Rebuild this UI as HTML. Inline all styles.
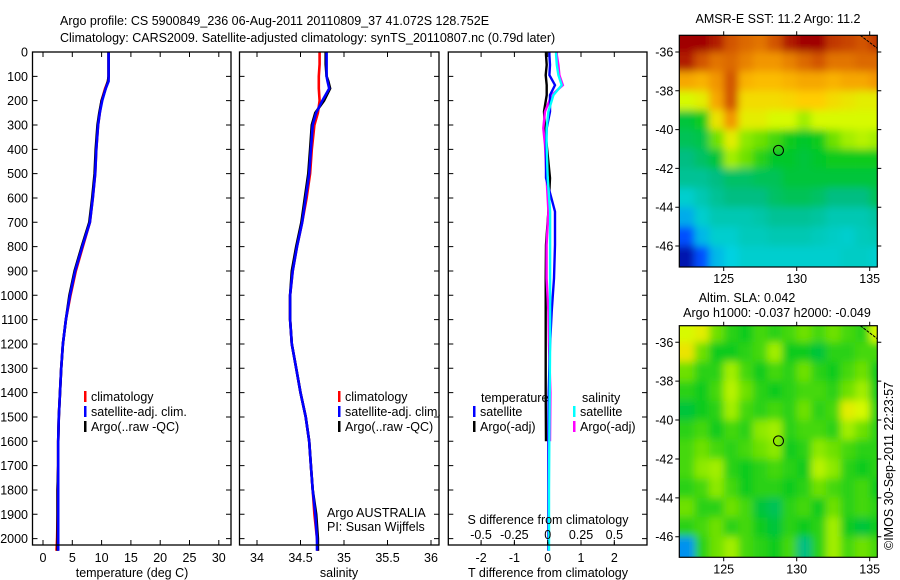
<!DOCTYPE html>
<html><head><meta charset="utf-8"><title>Argo profile</title>
<style>
html,body{margin:0;padding:0;background:#fff;}
svg{display:block;font-family:"Liberation Sans",sans-serif;}
text{font-size:12.5px;fill:#000;}
</style></head>
<body>
<svg id="chart" width="900" height="580" viewBox="0 0 900 580" xmlns="http://www.w3.org/2000/svg">
<defs><filter id="blur" x="-20%" y="-20%" width="140%" height="140%"><feGaussianBlur stdDeviation="4"/></filter></defs>
<text x="60" y="25">Argo profile: CS 5900849_236 06-Aug-2011 20110809_37 41.072S 128.752E</text>
<text x="60" y="42">Climatology: CARS2009. Satellite-adjusted climatology: synTS_20110807.nc (0.79d later)</text>
<g id="g1"></g>
<g id="g2"></g>
<g id="g3"></g>
<g id="m1"></g>
<g id="m2"></g>
<text transform="translate(893,550) rotate(-90)" x="0" y="0">©IMOS 30-Sep-2011 22:23:57</text>
</svg>
<script>
// ---- profile data ----
const depths = [0,50,100,120,150,200,250,300,400,500,600,700,800,900,1000,1100,1200,1300,1400,1500,1600,1700,1800,1900,2000,2050];
const tempClim = [11.2,11.2,11.2,11.1,10.6,10.0,9.7,9.4,9.1,8.9,8.5,8.0,6.8,5.6,4.7,3.9,3.4,3.1,2.9,2.7,2.6,2.6,2.5,2.5,2.4,2.3];
const tempSat  = [11.2,11.2,11.2,11.2,10.7,10.1,9.7,9.4,9.1,8.9,8.5,8.0,6.7,5.5,4.6,3.9,3.4,3.1,2.9,2.7,2.6,2.6,2.6,2.6,2.6,2.6];
const tempArgo = [11.2,11.2,11.2,11.1,10.7,10.0,9.6,9.3,9.0,8.8,8.4,7.9,6.6,5.4,4.5,3.9,3.4,3.1,2.9,2.7,2.6,2.6,2.5,2.5,2.5,2.5];
const salClim = [34.72,34.72,34.71,34.71,34.71,34.72,34.70,34.66,34.63,34.61,34.57,34.52,34.46,34.41,34.38,34.38,34.40,34.45,34.50,34.56,34.60,34.62,34.64,34.66,34.69,34.70];
const salSat  = [34.80,34.80,34.80,34.81,34.83,34.75,34.68,34.64,34.62,34.60,34.56,34.52,34.46,34.41,34.38,34.38,34.40,34.45,34.50,34.56,34.60,34.62,34.64,34.67,34.69,34.69];
const salArgo = [34.79,34.79,34.80,34.82,34.84,34.77,34.67,34.63,34.61,34.59,34.55,34.51,34.45,34.40,34.38,34.38,34.40,34.45,34.50,34.56,34.60,34.62,34.64,34.68,34.70,34.70];
const diffDepths = [0,12,53,95,136,177,245,313,382,518,656,793,930,1067,1204,1400,1600,1800,2000,2050];
const dTsat  = [0.05,0.05,0.07,0.05,0.22,0.07,0.07,-0.03,-0.05,-0.05,0.22,0.22,0.19,0.12,0.07,0.03,0.02,0.02,0.02,0.02];
const dTargo = [-0.05,-0.05,-0.03,-0.06,-0.03,-0.03,-0.11,-0.08,-0.03,0.07,0.02,-0.05,-0.06,-0.06,-0.06,-0.06,-0.05,-0.05,-0.05,-0.05];
const dSsat  = [0.063,0.063,0.068,0.08,0.105,0.043,0.005,-0.008,-0.008,0,0.018,0.018,0.018,0.018,0.018,0.015,0.012,0.01,0.01,0.01];
const dSargo = [0.068,0.068,0.08,0.088,0.113,0.03,-0.02,-0.033,-0.02,-0.008,0.005,-0.008,-0.008,0.005,0.01,0.02,0.017,0.015,0.012,0.012];
const depthTicks = [0,100,200,300,400,500,600,700,800,900,1000,1100,1200,1300,1400,1500,1600,1700,1800,1900,2000];
const tTicks = [0,5,10,15,20,25,30];
const sTicks = [34,34.5,35,35.5,36];
const dTTicks = [-2,-1,0,1,2];
const dSTicks = [-0.5,-0.25,0,0.25,0.5];
const dSTickLabels = ["-0.5","-0.25","0","0.25","0.5"];
// ---- map data (colormap index 0..1), rows lat -35.5..-46.5, cols lon 122.5..135.5 ----
const mapLons = [122.5,123.5,124.5,125.5,126.5,127.5,128.5,129.5,130.5,131.5,132.5,133.5,134.5,135.5];
const mapLats = [-35.5,-36.5,-37.5,-38.5,-39.5,-40.5,-41.5,-42.5,-43.5,-44.5,-45.5,-46.5];
const sstGrid = [
[1,1,0.95,0.85,0.82,0.8,0.85,0.95,1,1,0.9,0.88,0.85,0.9],
[0.95,0.85,0.8,0.82,0.78,0.75,0.75,0.78,0.82,0.85,0.8,0.8,0.82,0.82],
[0.72,0.7,0.75,0.85,0.7,0.68,0.68,0.7,0.72,0.72,0.7,0.72,0.72,0.75],
[0.55,0.58,0.72,0.85,0.62,0.62,0.62,0.63,0.65,0.65,0.62,0.6,0.58,0.58],
[0.35,0.38,0.6,0.75,0.58,0.58,0.55,0.55,0.5,0.55,0.55,0.55,0.55,0.55],
[0.33,0.34,0.45,0.58,0.48,0.45,0.42,0.38,0.36,0.38,0.45,0.5,0.52,0.5],
[0.3,0.32,0.35,0.5,0.45,0.4,0.36,0.36,0.35,0.36,0.38,0.38,0.38,0.38],
[0.28,0.28,0.3,0.32,0.32,0.33,0.33,0.35,0.35,0.35,0.35,0.35,0.35,0.35],
[0.22,0.25,0.28,0.3,0.3,0.3,0.32,0.33,0.33,0.32,0.3,0.3,0.3,0.33],
[0.17,0.22,0.25,0.25,0.25,0.26,0.28,0.28,0.28,0.27,0.25,0.25,0.25,0.27],
[0.1,0.18,0.22,0.22,0.24,0.24,0.25,0.25,0.25,0.24,0.23,0.22,0.24,0.25],
[0.03,0.1,0.18,0.2,0.22,0.22,0.22,0.22,0.22,0.22,0.22,0.23,0.23,0.22]];
const slaGrid = [
[0.55,0.58,0.45,0.4,0.38,0.42,0.4,0.42,0.45,0.42,0.45,0.42,0.4,0.55],
[0.6,0.45,0.38,0.38,0.4,0.42,0.5,0.38,0.38,0.35,0.4,0.4,0.42,0.42],
[0.45,0.4,0.4,0.5,0.42,0.38,0.42,0.4,0.45,0.4,0.38,0.42,0.45,0.38],
[0.4,0.38,0.42,0.52,0.45,0.4,0.38,0.4,0.42,0.42,0.4,0.45,0.5,0.38],
[0.35,0.38,0.4,0.5,0.42,0.4,0.42,0.4,0.45,0.4,0.42,0.58,0.55,0.4],
[0.4,0.42,0.38,0.42,0.4,0.48,0.5,0.4,0.42,0.42,0.4,0.5,0.45,0.4],
[0.42,0.45,0.42,0.4,0.42,0.45,0.48,0.38,0.4,0.48,0.45,0.42,0.4,0.4],
[0.42,0.48,0.5,0.4,0.38,0.4,0.42,0.4,0.38,0.52,0.48,0.4,0.38,0.4],
[0.4,0.42,0.48,0.42,0.38,0.4,0.4,0.38,0.4,0.45,0.42,0.4,0.42,0.38],
[0.45,0.4,0.4,0.45,0.42,0.35,0.33,0.4,0.42,0.38,0.45,0.4,0.42,0.4],
[0.4,0.42,0.45,0.4,0.42,0.38,0.35,0.4,0.38,0.4,0.5,0.38,0.35,0.38],
[0.15,0.4,0.45,0.5,0.42,0.4,0.38,0.42,0.3,0.4,0.5,0.42,0.45,0.42]];
const lonTicks = [125,130,135];
const latTicks = [-36,-38,-40,-42,-44,-46];
const argoPos = [128.752,-41.072];

const NS='http://www.w3.org/2000/svg';
function mk(parent,tag,attrs){const e=document.createElementNS(NS,tag);for(const k in attrs)e.setAttribute(k,attrs[k]);parent.appendChild(e);return e;}
const yD = d => 52 + d*0.2433;
const TOP=52, BOT=545;

function frame(g,x0,x1,name){
  const r=mk(g,'rect',{x:x0,y:TOP,width:x1-x0,height:BOT-TOP,fill:'none',stroke:'#000','stroke-width':1.3});
  
  
  depthTicks.forEach(d=>{
    const y=yD(d);
    const t=mk(g,'path',{d:`M${x0} ${y}h5M${x1} ${y}h-5`,stroke:'#000','stroke-width':1});
    
    
  });
}
function xticks(g,vals,labels,sx,ly){
  vals.forEach((v,i)=>{
    const x=sx(v);
    const t=mk(g,'path',{d:`M${x} ${BOT}v-5M${x} ${TOP}v5`,stroke:'#000','stroke-width':1});
    
    
    const l=mk(g,'text',{x:x,y:ly,'text-anchor':'middle'});l.textContent=labels[i];
    
    
  });
}
function line(g,xs,ds,sx,color,name,w){
  const pts=xs.map((v,i)=>sx(v).toFixed(1)+','+yD(ds[i]).toFixed(1)).join(' ');
  const p=mk(g,'polyline',{points:pts,fill:'none',stroke:color,'stroke-width':w||2.6});
  
  
}
function legend(g,x,y,color,label){
  const b=mk(g,'rect',{x:x,y:y-6,width:2.5,height:11,fill:color});
  
  
  const t=mk(g,'text',{x:x+7,y:y+4});t.textContent=label;
  
  
}
function txt(g,x,y,s,name,anchor){const t=mk(g,'text',{x:x,y:y,'text-anchor':anchor||'start'});t.textContent=s;return t;}

// Panel 1
const g1=document.getElementById('g1');
const sxT=v=>43+v*5.86;
line(g1,tempClim,depths,sxT,'#f00','temp-climatology-line');
line(g1,tempArgo,depths,sxT,'#000','temp-argo-line');
line(g1,tempSat,depths,sxT,'#00f','temp-satellite-line');
frame(g1,32.5,231,'temperature');
depthTicks.forEach(d=>txt(g1,28,yD(d)+4.5,String(d),'depth-tick-label','end'));
xticks(g1,tTicks,tTicks.map(String),sxT,562);
txt(g1,132,577,'temperature (deg C)','temperature-axis-title','middle');
legend(g1,84,397,'#f00','climatology');
legend(g1,84,412,'#00f','satellite-adj. clim.');
legend(g1,84,427,'#000','Argo(..raw -QC)');

// Panel 2
const g2=document.getElementById('g2');
const sxS=v=>257+(v-34)*87;
line(g2,salClim,depths,sxS,'#f00','sal-climatology-line');
line(g2,salArgo,depths,sxS,'#000','sal-argo-line');
line(g2,salSat,depths,sxS,'#00f','sal-satellite-line');
frame(g2,239.5,439,'salinity');
xticks(g2,sTicks,sTicks.map(String),sxS,562);
txt(g2,339,577,'salinity','salinity-axis-title','middle');
legend(g2,338,397,'#f00','climatology');
legend(g2,338,412,'#00f','satellite-adj. clim.');
legend(g2,338,427,'#000','Argo(..raw -QC)');
txt(g2,327,517,'Argo AUSTRALIA','operator-label');
txt(g2,327,531,'PI: Susan Wijffels','pi-label');

// Panel 3
const g3=document.getElementById('g3');
const sxDT=v=>547.7+v*33.3;
const sxDS=v=>547.7+v*133.3;
line(g3,dTargo.slice(0,17),diffDepths.slice(0,17),sxDT,'#000','tdiff-argo-line',2.4);
line(g3,dSargo.slice(0,17),diffDepths.slice(0,17),sxDS,'#f0f','sdiff-argo-line',2.4);
line(g3,dTsat,diffDepths,sxDT,'#00f','tdiff-satellite-line',2.4);
line(g3,dSsat,diffDepths,sxDS,'#0ff','sdiff-satellite-line',2.4);
frame(g3,448.3,647,'difference');
xticks(g3,dTTicks,dTTicks.map(String),sxDT,562);
dSTicks.forEach((v,i)=>{const x=sxDS(v);const t=mk(g3,'path',{d:`M${x} ${BOT}v-3`,stroke:'#000'});txt(g3,x,539,dSTickLabels[i],'s-tick-label','middle');});
txt(g3,548,577,'T difference from climatology','tdiff-axis-title','middle');
txt(g3,548,524,'S difference from climatology','sdiff-axis-title','middle');
txt(g3,481,402,'temperature','legend-title-temperature');
txt(g3,582,402,'salinity','legend-title-salinity');
legend(g3,473,412,'#00f','satellite');
legend(g3,473,427,'#000','Argo(-adj)');
legend(g3,573,412,'#0ff','satellite');
legend(g3,573,427,'#f0f','Argo(-adj)');

// Maps
const stops=[[0,[0,0,140]],[0.1,[0,80,255]],[0.2,[0,210,225]],[0.3,[0,190,130]],[0.37,[0,200,30]],[0.45,[110,225,0]],[0.55,[215,250,0]],[0.65,[255,205,0]],[0.75,[242,150,0]],[0.85,[210,85,0]],[1,[160,0,0]]];
function cmap(v){for(let i=1;i<stops.length;i++){if(v<=stops[i][0]){const a=stops[i-1],b=stops[i],f=(v-a[0])/(b[0]-a[0]);return 'rgb('+a[1].map((c,k)=>Math.round(c+(b[1][k]-c)*f)).join(',')+')';}}return 'rgb(160,0,0)';}
function drawMap(g,grid,top,bot,lat36,lat46,name){
  const L=679.3,R=877.3;
  const sx=lon=>723.7+(lon-125)*14.6;
  const py=(lat46-lat36)/10;
  const sy=lat=>lat36+(-36-lat)*py;
  const cid='clip'+name;
  const cp=mk(g,'clipPath',{id:cid});mk(cp,'rect',{x:L,y:top,width:R-L,height:bot-top});
  const cg=mk(g,'g',{'clip-path':`url(#${cid})`});
  const bg=mk(cg,'g',{filter:'url(#blur)'});
  const nr=grid.length,nc=grid[0].length;
  grid.forEach((row,i)=>row.forEach((v,j)=>{
    let x=sx(mapLons[j]-0.5),y=sy(mapLats[i]+0.5),w=14.9,h=py+0.4;
    if(j===0){x-=25;w+=25;} if(j===nc-1){w+=25;}
    if(i===0){y-=25;h+=25;} if(i===nr-1){h+=25;}
    const c=mk(bg,'rect',{x:x.toFixed(1),y:y.toFixed(1),width:w.toFixed(1),height:h.toFixed(1),fill:cmap(v)});
    
    
  }));
  const cl=mk(cg,'path',{d:`M${R-17} ${top}L${R} ${top+13}`,stroke:'#000','stroke-width':1,fill:'none','stroke-dasharray':'3,1'});
  
  
  const fr=mk(g,'rect',{x:L,y:top,width:R-L,height:bot-top,fill:'none',stroke:'#000','stroke-width':1.2});
  
  
  lonTicks.forEach(lon=>{const x=sx(lon);const t=mk(g,'path',{d:`M${x} ${top}v-4M${x} ${bot}v4`,stroke:'#000'});txt(g,x,bot+16,String(lon),'lon-tick-label','middle');});
  latTicks.forEach(lat=>{const y=sy(lat);const t=mk(g,'path',{d:`M${L} ${y}h-4M${R} ${y}h4`,stroke:'#000'});txt(g,L-6,y+4.5,String(lat),'lat-tick-label','end');});
  const c=mk(g,'circle',{cx:sx(argoPos[0]),cy:sy(argoPos[1]),r:5,fill:'none',stroke:'#000','stroke-width':1});
  
  
}
const m1=document.getElementById('m1');
drawMap(m1,sstGrid,35.3,267,52,246,'sst-map');
txt(m1,778,23,'AMSR-E SST: 11.2 Argo: 11.2','sst-map-title','middle');
const m2=document.getElementById('m2');
drawMap(m2,slaGrid,325.7,557.3,342.3,536.7,'sla-map');
txt(m2,747,302,'Altim. SLA: 0.042','sla-map-title','middle');
txt(m2,777,317,'Argo h1000: -0.037 h2000: -0.049','sla-map-subtitle','middle');
</script>
</body></html>
